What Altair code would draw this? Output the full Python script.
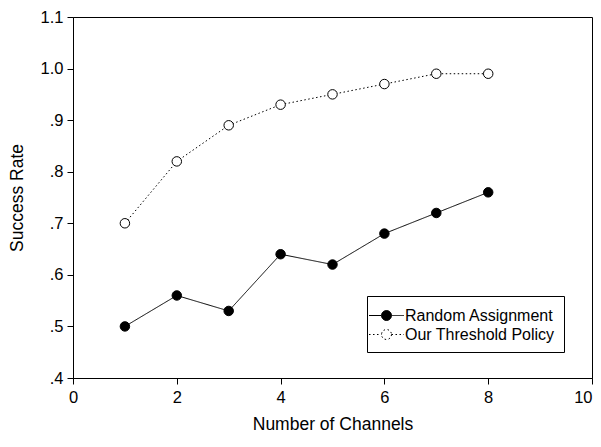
import altair as alt
import pandas as pd

channels = [1, 2, 3, 4, 5, 6, 7, 8]
random_assignment = [0.50, 0.56, 0.53, 0.64, 0.62, 0.68, 0.72, 0.76]
threshold_policy = [0.70, 0.82, 0.89, 0.93, 0.95, 0.97, 0.99, 0.99]
series_names = ["Random Assignment", "Our Threshold Policy"]
x_ticks = [0, 2, 4, 6, 8, 10]
y_ticks = [0.4, 0.5, 0.6, 0.7, 0.8, 0.9, 1.0, 1.1]

df = pd.concat([
    pd.DataFrame({"ch": channels, "rate": random_assignment, "series": series_names[0]}),
    pd.DataFrame({"ch": channels, "rate": threshold_policy, "series": series_names[1]}),
])

FONT = "Liberation Sans"

x = alt.X("ch:Q", scale=alt.Scale(domain=[0, 10], nice=False),
          axis=alt.Axis(values=x_ticks, title="Number of Channels", grid=False, format="d",
                        labelAlign={"condition": {"test": "datum.value >= 10", "value": "right"},
                                    "value": "center"}))
y = alt.Y("rate:Q", scale=alt.Scale(domain=[0.4, 1.1], nice=False, zero=False),
          axis=alt.Axis(values=y_ticks, title="Success Rate", grid=False,
                        labelExpr="datum.value < 1 ? replace(format(datum.value, '.1f'), '0.', '.') : format(datum.value, '.1f')"))

legend_symbol = ("M-1.75,0H-0.5 M0.5,0H1.75 M0.5,0A0.5,0.5 0 1,1 -0.5,0A0.5,0.5 0 1,1 0.5,0Z")

leg = alt.Legend(orient="none", legendX=294, legendY=279, title=None,
                 symbolType=legend_symbol, symbolSize=400, symbolStrokeColor="black",
                 symbolStrokeWidth=1, strokeColor="black", padding=9,
                 labelFont=FONT, labelFontSize=16, labelColor="black",
                 rowPadding=0, labelOffset=8)

dash_scale = alt.Scale(domain=series_names, range=[[1, 0], [1.5, 2.5]])
fill_scale = alt.Scale(domain=series_names, range=["black", "white"])

lines = alt.Chart(df).mark_line(color="black", strokeWidth=1).encode(
    x=x, y=y,
    strokeDash=alt.StrokeDash("series:N", sort=series_names, scale=dash_scale, legend=leg))

points = alt.Chart(df).mark_point(filled=False, shape="circle", size=90, stroke="black",
                                  strokeWidth=1, opacity=1).encode(
    x=x, y=y,
    fill=alt.Fill("series:N", sort=series_names, scale=fill_scale, legend=leg))

chart = alt.layer(lines, points).properties(
    width=519, height=361,
    autosize=alt.AutoSizeParams(type="none"),
    padding={"left": 65, "top": 9, "right": 1, "bottom": 56},
).configure_view(stroke="black", strokeWidth=1).configure_axis(
    domainColor="black", tickColor="black", tickSize=6, labelFont=FONT, labelFontSize=16.5,
    labelColor="black", titleFont=FONT, titleFontSize=17.5, titleFontWeight="normal",
    titleColor="black", labelPadding=4,
).configure_axisX(titlePadding=10, labelPadding=5).configure_axisY(titlePadding=14)

chart.save("out.html", embed_options={"renderer": "svg", "actions": False})
